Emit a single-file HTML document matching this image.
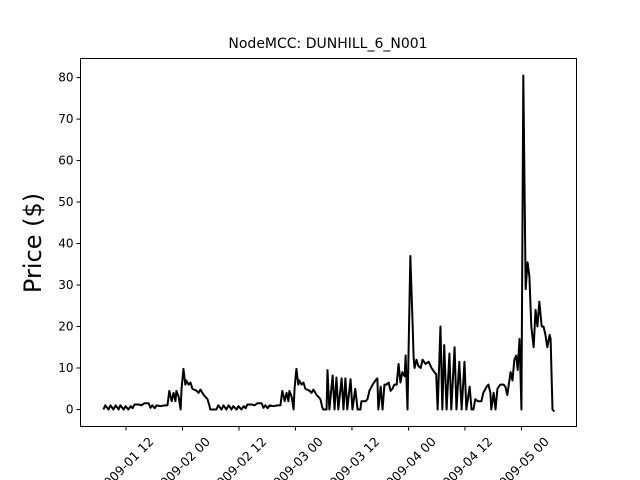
<!DOCTYPE html>
<html><head><meta charset="utf-8"><style>
html,body{margin:0;padding:0;background:#fff;}
svg{display:block;font-family:"DejaVu Sans","Liberation Sans",sans-serif;}
</style></head><body>
<svg id="chart" width="640" height="480" viewBox="0 0 640 480" xmlns="http://www.w3.org/2000/svg">
<rect x="0" y="0" width="640" height="480" fill="#fff"/>
<text x="328" y="48" text-anchor="middle" font-size="14">NodeMCC: DUNHILL_6_N001</text>
<text transform="translate(41,243) rotate(-90)" text-anchor="middle" font-size="24">Price ($)</text>
<g id="plot"></g>
</svg>
<script>
// hours since 09-01 00:00
const times = [7.2,7.6,8.3,8.7,9.3,9.8,10.4,10.8,11.5,11.9,12.5,13.0,13.4,13.8,14.7,15.3,15.9,16.8,17.2,17.6,18.1,18.5,19.3,20.2,20.8,21.2,21.7,22.1,22.5,22.7,23.2,23.6,23.8,24.2,24.6,24.8,25.3,25.7,26.1,27.0,27.4,27.8,28.5,29.3,29.7,29.9,
31.2,31.6,32.3,32.7,33.3,33.8,34.4,34.8,35.5,35.9,36.5,37.0,37.4,37.8,38.7,39.3,39.9,40.8,41.2,41.6,42.1,42.5,43.3,44.2,44.8,45.2,45.7,46.1,46.5,46.7,47.2,47.6,47.8,48.2,48.6,48.8,49.3,49.7,50.1,51.0,51.4,51.8,52.5,53.3,53.7,53.9,
54.6,54.8,55.2,55.9,56.3,56.7,57.1,57.8,58.2,58.6,59.0,59.7,60.1,60.7,61.2,61.8,62.0,62.9,63.3,63.7,64.4,65.0,65.4,65.6,66.1,66.5,66.9,67.3,67.8,68.2,68.6,69.0,69.5,69.9,70.3,70.7,71.2,71.4,71.8,72.4,72.9,73.1,73.3,73.7,74.1,74.6,75.0,75.6,76.3,76.9,77.5,77.9,78.2,78.8,79.2,79.6,80.1,80.7,81.1,81.8,82.2,82.8,83.3,83.9,84.3,85.0,85.4,85.8,86.2,86.7,87.5,87.9,88.6,89.0,89.4,89.6,90.1,90.5,90.9,91.5,92.2,92.6,93.0,93.7,94.1,94.5,94.9,95.2,95.6,96.0,96.4,96.9,97.3,97.7,98.1,98.6,99.0,99.4,99.8,100.3,100.7,101.1,101.5,102.0,102.2,102.6,103.0];
const prices = [0,1,0,1,0,1,0,1,0,0.8,0,0.8,0.3,1.2,1.2,1,1.5,1.5,0.4,1,0.3,1,0.8,1,1,4.5,2,4,2,4.5,3,0,5,9.8,6,7,6,6.5,5,4.5,4,4.8,3.5,2.5,1,0,
0,1,0,1,0,1,0,0.8,0,0.8,0,0.8,0.3,1.2,1.2,1,1.5,1.5,0.4,1,0.3,1,0.8,1,1,4.5,2,4,2,4.5,3,0,5,9.8,6,7,6,6.5,5,4.5,4,4.8,3.5,2.5,0.5,0,
0,9.5,0,8.2,0,7.7,0,7.5,0,7.5,0,7.3,0,5,0,0,2,2,2.5,4.5,6,7,7.5,0,5.5,0,6,6,6.5,4.5,5,6,6,11,6.5,9,8,13,0,37,20,12.5,10,12,10.5,10,12,11,11.5,10,9,8.5,0,20,0,15.5,0,13.5,0,15,0,11.5,0,11.5,0,5.5,0,0,2.5,2,2,4,5.5,6,4,0,4,0,5,6,6,5.5,3.5,9,7,12,13,9.5,17,0,80.5,29,35.5,32,20,15,24,20,26,20,20,18,15,18,17,0,-0.5];
const yTicks = [0,10,20,30,40,50,60,70,80];
const xTickHours = [12,24,36,48,60,72,84,96];
const xTickLabels = ["2009-01 12","2009-02 00","2009-02 12","2009-03 00","2009-03 12","2009-04 00","2009-04 12","2009-05 00"];

const L=80.5,R=576.5,T=58.5,B=426.5;
const xMin=2.33,xMax=107.7,yMin=-4.1,yMax=84.6;
const xs=h=>L+(h-xMin)/(xMax-xMin)*(R-L);
const ys=v=>B-(v-yMin)/(yMax-yMin)*(B-T);
const NS="http://www.w3.org/2000/svg";
const g=document.getElementById('plot');
function mk(tag,attrs){const e=document.createElementNS(NS,tag);for(const k in attrs)e.setAttribute(k,attrs[k]);g.appendChild(e);return e;}

let d='';
times.forEach((t,i)=>{d+=(i?'L':'M')+xs(t).toFixed(2)+','+ys(prices[i]).toFixed(2);});
const line=mk('path',{d:d,fill:'none',stroke:'#000','stroke-width':2,'stroke-linejoin':'round'});



const frame=mk('rect',{x:L,y:T,width:R-L,height:B-T,fill:'none',stroke:'#000','stroke-width':1});



yTicks.forEach(v=>{
  const y=ys(v);
  const tk=mk('line',{x1:L-4,x2:L,y1:y,y2:y,stroke:'#000','stroke-width':1});
  
  
  const tx=mk('text',{x:L-7,y:y+4,'text-anchor':'end','font-size':12});
  tx.textContent=v;
  
  
});
xTickHours.forEach((h,i)=>{
  const x=xs(h);
  const tk=mk('line',{x1:x,x2:x,y1:B,y2:B+4,stroke:'#000','stroke-width':1});
  
  
  const tx=mk('text',{x:0,y:4,'text-anchor':'middle','font-size':12.5,transform:'translate('+x+',465) rotate(-45)'});
  tx.textContent=xTickLabels[i];
  
  
});
</script>
</body></html>
